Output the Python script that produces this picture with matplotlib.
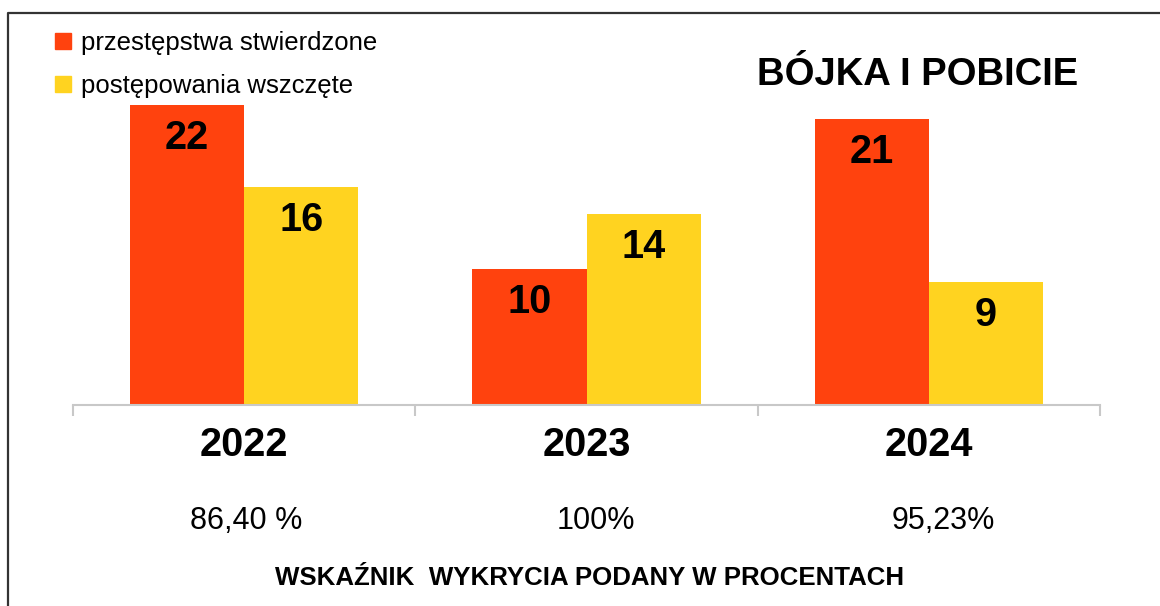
import matplotlib
matplotlib.use("Agg")
import matplotlib.pyplot as plt
from matplotlib.lines import Line2D
import numpy as np

years = ["2022", "2023", "2024"]
stwierdzone = [22, 10, 21]
wszczete = [16, 14, 9]
wskaznik = ["86,40 %", "100%", "95,23%"]
series_names = ["przestępstwa stwierdzone", "postępowania wszczęte"]
title = "BÓJKA I POBICIE"
footer = "WSKAŹNIK  WYKRYCIA PODANY W PROCENTACH"

RED = "#FF420E"
YEL = "#FFD320"

plt.rcParams['font.family'] = ['Liberation Sans', 'DejaVu Sans']

W, H = 1160, 606
fig = plt.figure(figsize=(W / 100, H / 100), dpi=100)

def fx(px):
    return px / W

def fy(py):
    return 1 - py / H

ax_left, ax_right, ax_bottom, ax_top = 73, 1100, 405, 105
ax = fig.add_axes([fx(ax_left), fy(ax_bottom), fx(ax_right - ax_left), (ax_bottom - ax_top) / H])
x = np.arange(len(years))
bw = 1 / 3
ax.bar(x - bw / 2, stwierdzone, bw, color=RED, linewidth=0)
ax.bar(x + bw / 2, wszczete, bw, color=YEL, linewidth=0)
ax.set_xlim(-0.5, len(years) - 0.5)
ax.set_ylim(0, 22)

for xs, vals in ((x - bw / 2, stwierdzone), (x + bw / 2, wszczete)):
    for xi, v in zip(xs, vals):
        ax.annotate(str(v), (xi, v), xytext=(0, -33), textcoords='offset pixels',
                    ha='center', va='center', fontsize=28.5, fontweight='bold',
                    annotation_clip=False)

for s in ['top', 'right', 'left']:
    ax.spines[s].set_visible(False)
ax.spines['bottom'].set_color('#c8c8c8')
ax.spines['bottom'].set_linewidth(1.5)
ax.set_yticks([])
ax.set_xticks(np.arange(-0.5, len(years), 1.0))
ax.set_xticklabels([])
ax.tick_params(axis='x', length=8, width=1.5, color='#c8c8c8')

for xi, yr in zip(x, years):
    ax.annotate(yr, (xi, 0), xytext=(0, -40), textcoords='offset pixels',
                ha='center', va='center', fontsize=28.5, fontweight='bold',
                annotation_clip=False)

pct_x = [246, 596, 943]
for px, pct in zip(pct_x, wskaznik):
    fig.text(fx(px), fy(521), pct, ha='center', va='center', fontsize=22)

fig.text(fx(590), fy(578), footer, ha='center', va='center', fontsize=18.6,
         fontweight='bold')

fig.text(fx(918), fy(75), title, ha='center', va='center', fontsize=27.5, fontweight='bold')

handles = [Line2D([], [], marker='s', linestyle='none', markersize=12, color=RED),
           Line2D([], [], marker='s', linestyle='none', markersize=12, color=YEL)]
fig.legend(handles, series_names, loc='upper left', bbox_to_anchor=(fx(40), fy(21)),
           frameon=False, fontsize=18.5, handletextpad=0.2, labelspacing=0.72,
           handlelength=1.0, borderaxespad=0)

fig.add_artist(Line2D([fx(8), fx(8), 1.0], [0.0, fy(13), fy(13)], color='#333333',
                      linewidth=1.6, transform=fig.transFigure))

fig.savefig("out.png", dpi=100, facecolor='white')
